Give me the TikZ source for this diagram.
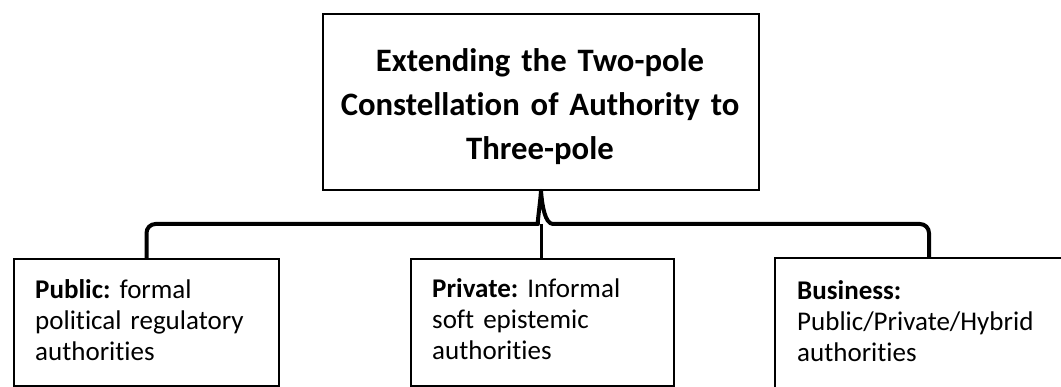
\documentclass[tikz,border=0pt]{standalone}
\usepackage{fontspec}
\setmainfont{Carlito}[Ligatures={NoCommon}]
\frenchspacing
\usetikzlibrary{calc}
% natural, unstretched word spaces
\newcommand\tightwords{\spaceskip=0.22em plus 0.05em\relax}
\begin{document}
\begin{tikzpicture}[x=1pt,y=-1pt,
  boxed/.style={draw=black, line width=2pt, inner sep=0pt, anchor=north west},
  titletxt/.style={anchor=base, inner sep=0pt, text width=430pt, align=center,
    font=\fontsize{32.7}{44}\selectfont\bfseries\tightwords},
  bodytxt/.style={anchor=base west, inner sep=0pt, text width=255pt, align=left,
    font=\fontsize{27}{31}\selectfont\tightwords},
  brace/.style={draw=black, line width=4pt, line join=round},
  stem/.style={draw=black, line width=3pt}]

\useasboundingbox (0,0) rectangle (1061,387);
\clip (0,0) rectangle (1061,387);

% boxes
\node[boxed, minimum width=436pt, minimum height=176pt] (top) at (322,13) {};
\node[boxed, minimum width=265pt, minimum height=127pt] (pub) at (13,258) {};
\node[boxed, minimum width=263pt, minimum height=127pt] (priv) at (410,258) {};
\node[boxed, minimum width=308pt, minimum height=140pt] (bus) at (774,257) {};

% texts
\node[titletxt] (ttl) at (540,72) {Extending the Two-pole\\Constellation of Authority to\\Three-pole};
\node[bodytxt] (pubtxt) at (35,299) {\textbf{Public:} formal\\political regulatory\\authorities};
\node[bodytxt] (privtxt) at (432,298) {\textbf{Private:} Informal\\soft epistemic\\authorities};
\node[bodytxt] (bustxt) at (797,300) {\textbf{Business:}\\Public/Private/Hybrid\\authorities};

% curly brace joining the three poles to the title
\coordinate (hub) at (top.south |- 0,224);
\draw[brace] (pub.north) [rounded corners=9pt] -- (pub.north |- hub) -- ($(hub)+(-12,0)$)
  [sharp corners] .. controls ($(hub)+(-4,0)$) and ($(top.south)+(-1,14)$) .. (top.south)
  .. controls ($(top.south)+(1,14)$) and ($(hub)+(4,0)$) .. ($(hub)+(12,0)$)
  [rounded corners=9pt] -- (bus.north |- hub) -- (bus.north);
\draw[stem] (hub) -- (hub |- priv.north);
\end{tikzpicture}
\end{document}
